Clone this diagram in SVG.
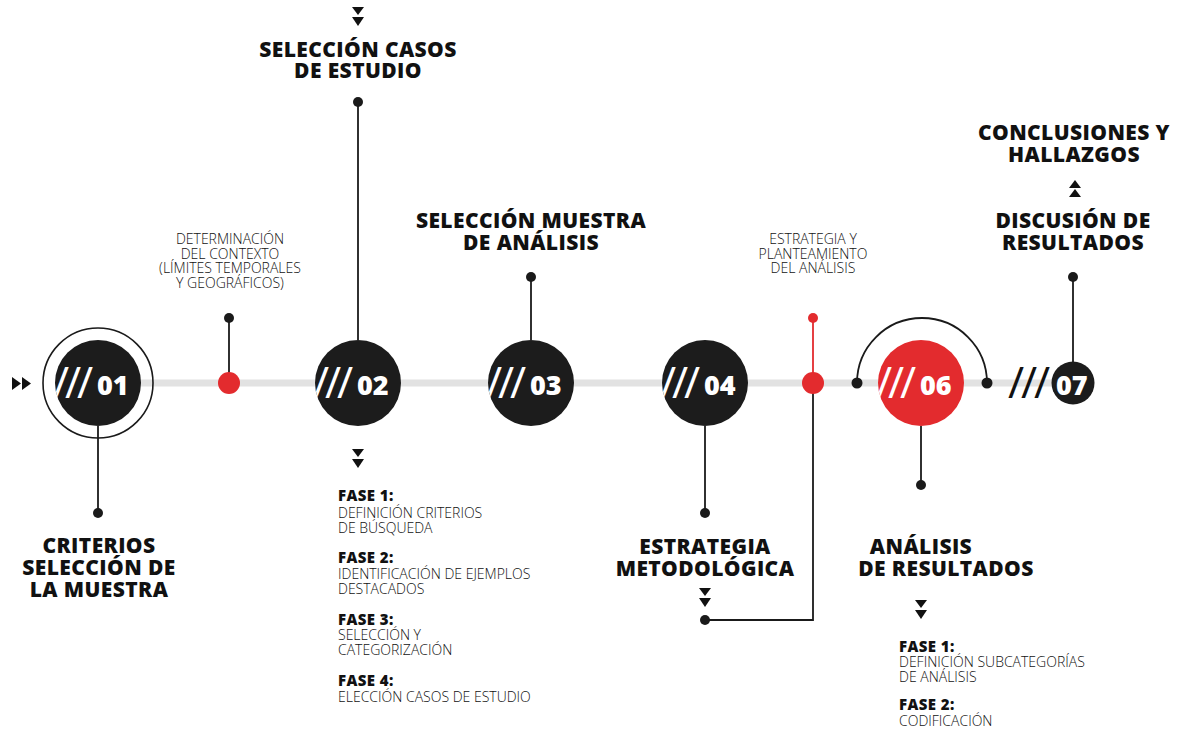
<svg xmlns="http://www.w3.org/2000/svg" width="1178" height="732" viewBox="0 0 1178 732">
<style>
text{font-family:"Open Sans","Liberation Sans",sans-serif}
.h{font-weight:800;font-size:21px;letter-spacing:0.4px;fill:#111;text-anchor:middle}
.s{font-weight:300;font-size:14px;fill:#111;text-anchor:middle}
.l{font-weight:300;font-size:14px;fill:#111}
.f{font-weight:800;font-size:15px;letter-spacing:0.4px;fill:#111}
.n{fill:#fff;font-weight:800;font-size:27px}
.sl{fill:#fff;font-weight:400;font-size:44px}
.ln{stroke:#1a1a1a;stroke-width:1.8;fill:none}
.dot{fill:#1a1a1a}
.blk{fill:#1c1c1c}
.red{fill:#e32b2e}
.tri{fill:#111}
</style>
<defs>
<clipPath id="c1"><circle cx="98" cy="383" r="43"/></clipPath>
<clipPath id="c2"><circle cx="358" cy="383" r="43"/></clipPath>
<clipPath id="c3"><circle cx="531" cy="383" r="43"/></clipPath>
<clipPath id="c4"><circle cx="705" cy="383" r="43"/></clipPath>
<clipPath id="c6"><circle cx="921" cy="383" r="43"/></clipPath>
</defs>
<rect width="1178" height="732" fill="#fff"/>
<g id="connectors">
<line x1="98" y1="383" x2="1060" y2="383" stroke="#e2e2e2" stroke-width="7"/>
<line class="ln" x1="98" y1="426" x2="98" y2="513"/>
<circle class="dot" cx="98" cy="513" r="5"/>
<line class="ln" x1="229" y1="383" x2="229" y2="318"/>
<circle class="dot" cx="229" cy="318" r="5"/>
<line class="ln" x1="358" y1="340" x2="358" y2="102"/>
<circle class="dot" cx="358" cy="102" r="5"/>
<line class="ln" x1="531" y1="340" x2="531" y2="277"/>
<circle class="dot" cx="531" cy="277" r="5"/>
<line class="ln" x1="705" y1="426" x2="705" y2="513"/>
<circle class="dot" cx="705" cy="513" r="5"/>
<line x1="813" y1="383" x2="813" y2="318" stroke="#e32b2e" stroke-width="1.8"/>
<circle class="red" cx="813" cy="318" r="5"/>
<polyline class="ln" points="813,383 813,620 705,620"/>
<circle class="dot" cx="705" cy="620" r="5"/>
<path class="ln" d="M857,383 A65,65 0 0 1 987,383"/>
<circle class="dot" cx="857" cy="383" r="5.5"/>
<circle class="dot" cx="987" cy="383" r="5.5"/>
<line class="ln" x1="921" y1="426" x2="921" y2="485"/>
<circle class="dot" cx="921" cy="485" r="5"/>
<line class="ln" x1="1073" y1="362" x2="1073" y2="277"/>
<circle class="dot" cx="1073" cy="277" r="5"/>
<polygon class="tri" points="12,377 21,383.5 12,390"/>
<polygon class="tri" points="22,377 31,383.5 22,390"/>
</g>
<g id="node01">
<circle cx="98" cy="383" r="55" fill="none" stroke="#1a1a1a" stroke-width="1.6"/>
<circle class="blk" cx="98" cy="383" r="43"/>
<text clip-path="url(#c1)"><tspan class="sl" x="53 65 77" y="398">///</tspan><tspan class="n" x="97" y="395">01</tspan></text>
</g>
<g id="dot-contexto">
<circle class="red" cx="229" cy="383" r="11"/>
<text class="s" x="230" y="244">DETERMINACIÓN</text>
<text class="s" x="230" y="259">DEL CONTEXTO</text>
<text class="s" x="230" y="273">(LÍMITES TEMPORALES</text>
<text class="s" x="230" y="288">Y GEOGRÁFICOS)</text>
</g>
<g id="node02">
<circle class="blk" cx="358" cy="383" r="43"/>
<text clip-path="url(#c2)"><tspan class="sl" x="313 325 337" y="398">///</tspan><tspan class="n" x="357" y="395">02</tspan></text>
</g>
<g id="node03">
<circle class="blk" cx="531" cy="383" r="43"/>
<text clip-path="url(#c3)"><tspan class="sl" x="486 498 510" y="398">///</tspan><tspan class="n" x="530" y="395">03</tspan></text>
</g>
<g id="node04">
<circle class="blk" cx="705" cy="383" r="43"/>
<text clip-path="url(#c4)"><tspan class="sl" x="660 672 684" y="398">///</tspan><tspan class="n" x="704" y="395">04</tspan></text>
</g>
<g id="dot-estrategia">
<circle class="red" cx="813" cy="383" r="11"/>
<text class="s" x="813" y="244">ESTRATEGIA Y</text>
<text class="s" x="813" y="259">PLANTEAMIENTO</text>
<text class="s" x="813" y="273">DEL ANÁLISIS</text>
</g>
<g id="node06">
<circle class="red" cx="921" cy="383" r="43"/>
<text clip-path="url(#c6)"><tspan class="sl" x="876 888 900" y="398">///</tspan><tspan class="n" x="920" y="395">06</tspan></text>
</g>
<g id="node07">
<circle class="blk" cx="1073" cy="383" r="21.5"/>
<text><tspan class="sl" x="1008 1021 1034" y="398" style="fill:#111">///</tspan><tspan class="n" x="1056" y="395">07</tspan></text>
</g>
<g id="label-criterios">
<text class="h" x="99" y="553">CRITERIOS</text>
<text class="h" x="99" y="575">SELECCIÓN DE</text>
<text class="h" x="99" y="597">LA MUESTRA</text>
</g>
<g id="label-casos">
<polygon class="tri" points="352,7 364,7 358,15"/>
<polygon class="tri" points="352,17 364,17 358,26"/>
<text class="h" x="358" y="57">SELECCIÓN CASOS</text>
<text class="h" x="358" y="78">DE ESTUDIO</text>
</g>
<g id="fases-casos">
<polygon class="tri" points="352,449 364,449 358,457"/>
<polygon class="tri" points="352,459 364,459 358,468"/>
<text class="f" x="338" y="501">FASE 1:</text>
<text class="l" x="338" y="518">DEFINICIÓN CRITERIOS</text>
<text class="l" x="338" y="533">DE BÚSQUEDA</text>
<text class="f" x="338" y="563">FASE 2:</text>
<text class="l" x="338" y="579">IDENTIFICACIÓN DE EJEMPLOS</text>
<text class="l" x="338" y="594">DESTACADOS</text>
<text class="f" x="338" y="625">FASE 3:</text>
<text class="l" x="338" y="640">SELECCIÓN Y</text>
<text class="l" x="338" y="655">CATEGORIZACIÓN</text>
<text class="f" x="338" y="686">FASE 4:</text>
<text class="l" x="338" y="702">ELECCIÓN CASOS DE ESTUDIO</text>
</g>
<g id="label-muestra">
<text class="h" x="531" y="228">SELECCIÓN MUESTRA</text>
<text class="h" x="531" y="250">DE ANÁLISIS</text>
</g>
<g id="label-metodologica">
<text class="h" x="705" y="554">ESTRATEGIA</text>
<text class="h" x="705" y="576">METODOLÓGICA</text>
<polygon class="tri" points="699,588 711,588 705,596"/>
<polygon class="tri" points="699,598 711,598 705,607"/>
</g>
<g id="label-analisis">
<text class="h" x="921" y="554">ANÁLISIS</text>
<text class="h" x="946" y="576">DE RESULTADOS</text>
<polygon class="tri" points="915,600 927,600 921,608"/>
<polygon class="tri" points="915,610 927,610 921,619"/>
<text class="f" x="899" y="652">FASE 1:</text>
<text class="l" x="899" y="667">DEFINICIÓN SUBCATEGORÍAS</text>
<text class="l" x="899" y="682">DE ANÁLISIS</text>
<text class="f" x="899" y="710">FASE 2:</text>
<text class="l" x="899" y="726">CODIFICACIÓN</text>
</g>
<g id="label-discusion">
<text class="h" x="1074" y="140">CONCLUSIONES Y</text>
<text class="h" x="1074" y="162">HALLAZGOS</text>
<polygon class="tri" points="1075,180 1081,188 1069,188"/>
<polygon class="tri" points="1075,189 1081,197 1069,197"/>
<text class="h" x="1073" y="228">DISCUSIÓN DE</text>
<text class="h" x="1073" y="250">RESULTADOS</text>
</g>
</svg>
